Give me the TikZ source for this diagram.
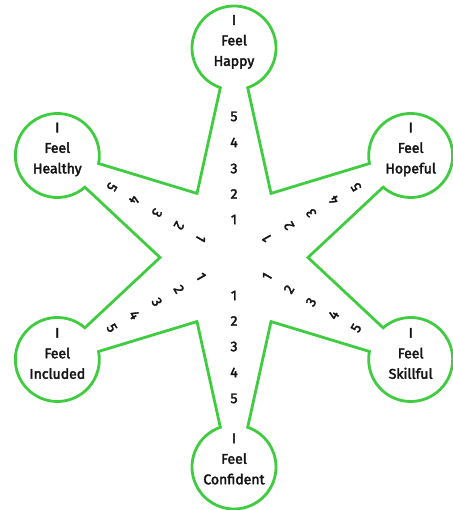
\documentclass[tikz,border=0pt]{standalone}
\usepackage{fontspec}
\setmainfont{Fira Sans}[FakeBold=2.6]
\usetikzlibrary{calc}
\definecolor{stargreen}{RGB}{64,204,64}
\begin{document}
\begin{tikzpicture}[x=1pt,y=1pt,
  outline/.style={draw=stargreen,line width=2.8pt,line join=miter,fill=white},
  lbl/.style={align=center,font=\fontsize{14}{20.5}\selectfont,text=black!92,inner sep=0pt},
  num/.style={font=\fontsize{14}{16}\selectfont,text=black!92,inner sep=0pt}]
\useasboundingbox (0,0) rectangle (452,510);
\coordinate (O) at (234,252.5);
\coordinate (A90) at ($(O)+(90:209.5)$);
\coordinate (A30) at ($(O)+(30:204)$);
\coordinate (A150) at ($(O)+(150:204)$);
\coordinate (A210) at ($(O)+(210:204)$);
\coordinate (A270) at ($(O)+(270:209.5)$);
\coordinate (A330) at ($(O)+(330:204)$);
\foreach \a in {0,60,120,180,240,300} \coordinate (V\a) at ($(O)+(\a:74)$);
\draw[outline] (V0) -- ($(A30)+(-131:42)$) arc[start angle=-131,end angle=191,radius=42]
  -- (V60) -- ($(A90)+(-71:42)$) arc[start angle=-71,end angle=251,radius=42]
  -- (V120) -- ($(A150)+(-11:42)$) arc[start angle=-11,end angle=311,radius=42]
  -- (V180) -- ($(A210)+(49:42)$) arc[start angle=49,end angle=371,radius=42]
  -- (V240) -- ($(A270)+(109:42)$) arc[start angle=109,end angle=431,radius=42]
  -- (V300) -- ($(A330)+(169:42)$) arc[start angle=169,end angle=491,radius=42]
  -- cycle;
\node[lbl] (happy) at ($(A90)+(0,6)$) {I\\Feel\\Happy};
\node[lbl] (hopeful) at ($(A30)+(0,6)$) {I\\Feel\\Hopeful};
\node[lbl] (healthy) at ($(A150)+(0,6)$) {I\\Feel\\Healthy};
\node[lbl] (included) at ($(A210)+(0,6)$) {I\\Feel\\Included};
\node[lbl] (skillful) at ($(A330)+(0,6)$) {I\\Feel\\Skillful};
\node[lbl] (confident) at ($(A270)+(0,8)$) {I\\Feel\\Confident};
\foreach \ang/\rot in {90/0,30/120,150/-120,210/-60,270/0,330/60}{
  \foreach \n/\d in {1/38,2/63.5,3/89,4/115,5/141}{
    \node[num,rotate=\rot] (n\ang-\n) at ($(O)+(\ang:\d)$) {\n};
  }
}
\end{tikzpicture}
\end{document}
